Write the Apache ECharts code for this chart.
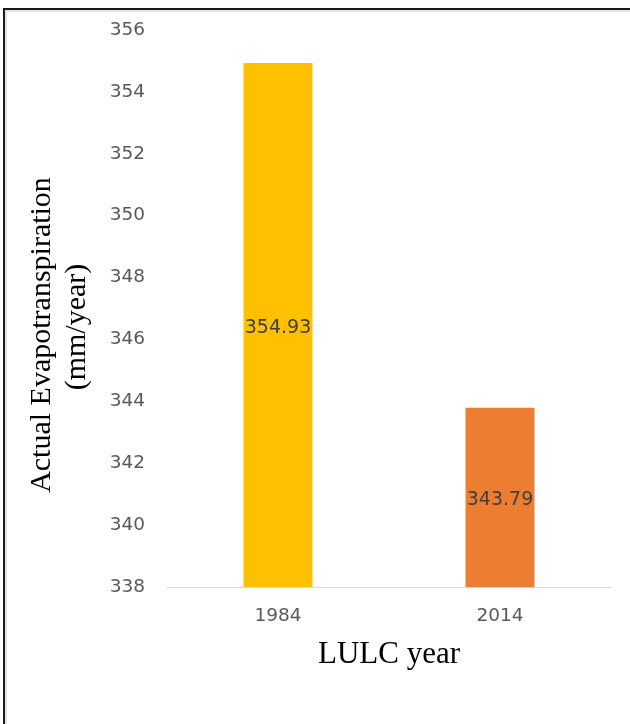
<!DOCTYPE html>
<html>
<head>
<meta charset="utf-8">
<script src="https://cdn.jsdelivr.net/npm/echarts@6/dist/echarts.min.js"></script>
<style>html,body{margin:0;padding:0;background:#fff}#c{width:630px;height:724px}</style>
</head>
<body>
<div id="c"></div>
<script>
var categories = ['1984', '2014'];
var values = [354.93, 343.79];
var barColors = ['#FFC000', '#ED7D31'];
var yMin = 338, yMax = 356, yStep = 2;
var yTitle1 = 'Actual Evapotranspiration';
var yTitle2 = '(mm/year)';
var xTitle = 'LULC year';

var chart = echarts.init(document.getElementById('c'), null, {renderer: 'canvas'});
chart.setOption({
  animation: false,
  backgroundColor: '#fff',
  grid: {left: 167, right: 19, top: 30, bottom: 137, containLabel: false},
  xAxis: {
    type: 'category',
    data: categories,
    axisLine: {lineStyle: {color: '#d9d9d9', width: 1}},
    axisTick: {show: false},
    axisLabel: {color: '#595959', fontFamily: 'DejaVu Sans', fontSize: 18.5, margin: 20},
    name: xTitle,
    nameLocation: 'middle',
    nameGap: 52,
    nameTextStyle: {color: '#000', fontFamily: 'Liberation Serif', fontSize: 31}
  },
  yAxis: {
    type: 'value',
    min: yMin, max: yMax, interval: yStep,
    axisLine: {show: false},
    axisTick: {show: false},
    splitLine: {show: false},
    axisLabel: {color: '#595959', fontFamily: 'DejaVu Sans', fontSize: 18.5, margin: 22}
  },
  series: [{
    type: 'bar',
    barWidth: 69,
    data: values.map(function (v, i) { return {value: v, itemStyle: {color: barColors[i]}}; }),
    label: {
      show: true, position: 'inside', offset: [0, 3], color: '#404040',
      fontFamily: 'DejaVu Sans', fontSize: 19,
      formatter: function (p) { return p.value.toFixed(2); }
    }
  }],
  graphic: [
    {type: 'rect', shape: {x: 4, y: 9, width: 700, height: 800},
     style: {fill: null, stroke: '#1a1a1a', lineWidth: 2}, silent: true},
    {type: 'rect', shape: {x: 6, y: 11, width: 700, height: 800},
     style: {fill: null, stroke: '#c8c8c8', lineWidth: 1}, silent: true},
    {type: 'text', x: 42, y: 335, rotation: Math.PI / 2,
     style: {text: yTitle1, fill: '#000', font: '30px "Liberation Serif"', textAlign: 'center', textVerticalAlign: 'middle'}},
    {type: 'text', x: 77, y: 327, rotation: Math.PI / 2,
     style: {text: yTitle2, fill: '#000', font: '30px "Liberation Serif"', textAlign: 'center', textVerticalAlign: 'middle'}}
  ]
});
</script>
</body>
</html>
